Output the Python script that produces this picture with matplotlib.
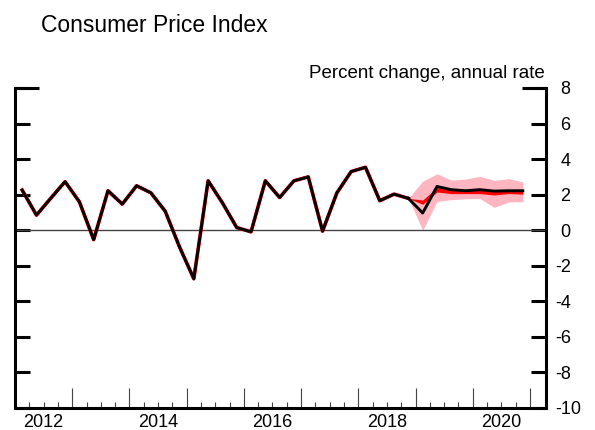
import numpy as np
import matplotlib
matplotlib.use("Agg")
import matplotlib.pyplot as plt

plt.rcParams['font.family'] = ['Liberation Sans', 'DejaVu Sans']
plt.rcParams['axes.unicode_minus'] = False

# quarterly observations, 2012Q1 .. 2018Q4
quarters = [f"{y}Q{q}" for y in range(2012, 2021) for q in range(1, 5)]
actual = [2.26, 0.85, 1.80, 2.73, 1.60, -0.53, 2.22, 1.47,
          2.50, 2.10, 1.07, -0.94, -2.73, 2.78, 1.54, 0.15,
          -0.09, 2.78, 1.84, 2.78, 3.00, -0.05, 2.10, 3.30,
          3.54, 1.66, 2.03, 1.79]

# projection, 2018Q4 .. 2020Q4
proj_line = [1.79, 0.97, 2.46, 2.28, 2.22, 2.28, 2.20, 2.22, 2.22]
red_lo = [1.79, 1.46, 2.15, 2.06, 2.06, 2.06, 1.98, 2.06, 2.03]
red_hi = [1.79, 1.70, 2.40, 2.28, 2.25, 2.32, 2.22, 2.28, 2.25]
band_lo = [1.79, 0.00, 1.62, 1.72, 1.77, 1.78, 1.28, 1.59, 1.60]
band_hi = [1.79, 2.76, 3.17, 2.82, 2.88, 3.03, 2.80, 2.90, 2.72]

years = list(range(2012, 2021))
year_labels = [2012, 2014, 2016, 2018, 2020]
yticks = list(range(-10, 9, 2))


def qpos(label):
    # centre of the quarter, in fractional years
    y, q = int(label[:4]), int(label[-1])
    return y + 0.25 * (q - 1) + 0.125


x_hist = np.array([qpos(q) for q in quarters[:len(actual)]])
x_proj = np.array([qpos(q) for q in quarters[len(actual) - 1:]])

fig = plt.figure(figsize=(5.95, 4.3), dpi=100)
ax = fig.add_axes([15 / 595, 1 - 408 / 430, 531 / 595, 320 / 430])

ax.fill_between(x_proj, band_lo, band_hi, color='#ffb6c1', lw=0, zorder=1)
ax.fill_between(x_proj, red_lo, red_hi, color='red', lw=0, zorder=2)
ax.axhline(0, color='#444444', lw=1.0, zorder=2)
ax.plot(x_hist, actual, color='red', lw=2.6, zorder=3, solid_joinstyle='round')
ax.plot(x_hist, actual, color='black', lw=2.1, zorder=4, solid_joinstyle='round')
ax.plot(x_proj, proj_line, color='black', lw=2.1, zorder=4, solid_joinstyle='round')

ax.set_xlim(2012, 2021.28)
ax.set_ylim(-10, 8)

# spines
ax.spines['top'].set_visible(False)
for s in ['left', 'right', 'bottom']:
    ax.spines[s].set_linewidth(2.2)

# y ticks: both sides inward, labels on the right
ax.set_yticks(yticks)
ax.set_yticklabels([str(v) if v < 0 else ' ' + str(v) for v in yticks])
ax.tick_params(axis='y', which='major', direction='in', length=11, width=2.2,
               left=True, right=True, labelleft=False, labelright=True,
               labelsize=13, pad=7)
# longer marks at the top
ax.plot([0, 24 / 531], [1, 1], transform=ax.transAxes, color='black',
        lw=2.2, clip_on=False, solid_capstyle='butt')
ax.plot([1 - 24 / 531, 1], [1, 1], transform=ax.transAxes, color='black',
        lw=2.2, clip_on=False, solid_capstyle='butt')

# x ticks: year boundaries (long) and quarters (short), pointing up
ax.set_xticks([y + 1 for y in years])
ax.set_xticks([y + q * 0.25 for y in years for q in (1, 2, 3)], minor=True)
ax.tick_params(axis='x', which='major', direction='in', length=14.5, width=0.8,
               labelbottom=False, color='#444444')
ax.tick_params(axis='x', which='minor', direction='in', length=4.3, width=0.8,
               color='#444444')

# year labels centred on every other year
sec = ax.secondary_xaxis('bottom')
sec.set_xticks([y + 0.5 for y in year_labels])
sec.set_xticklabels([str(y) for y in year_labels])
sec.tick_params(length=0, labelsize=13, pad=4)
sec.spines['bottom'].set_visible(False)

fig.text(41 / 595, 1 - 31.7 / 430, 'Consumer Price Index', fontsize=16.5,
         va='baseline', ha='left')
fig.text(545 / 595, 1 - 78.3 / 430, 'Percent change, annual rate', fontsize=13.5,
         va='baseline', ha='right')

fig.savefig('out.png', dpi=100)
